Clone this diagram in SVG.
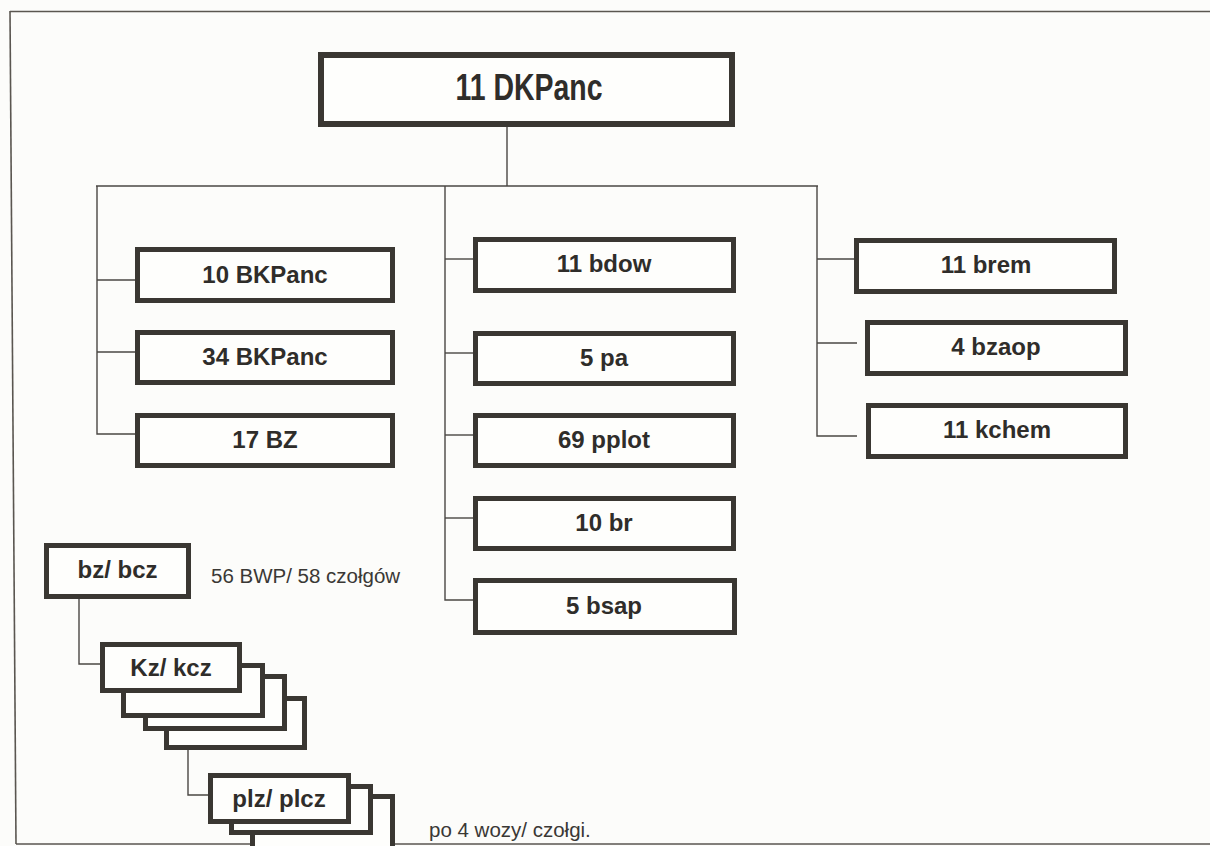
<svg xmlns="http://www.w3.org/2000/svg" width="1210" height="846" viewBox="0 0 1210 846">
<style>
.bg{fill:#fcfcfa}
.frame{fill:none;stroke:#5a5650;stroke-width:1.6}
.box{fill:#fefefc;stroke:#3a3732;stroke-width:5}
.top{stroke-width:6}
.con{fill:none;stroke:#4a4743;stroke-width:1.4}
.lbl{font-family:"Liberation Sans",Arial,sans-serif;font-weight:bold;font-size:24px;fill:#2f2d2a;text-anchor:middle}
.big{font-size:37px}
.note{font-family:"Liberation Sans",Arial,sans-serif;font-size:20.5px;fill:#3a3835}
</style>
<rect class="bg" x="0" y="0" width="1210" height="846"/>
<g id="frame">
<line class="frame" x1="10" y1="11.5" x2="1210" y2="11.5"/>
<line class="frame" x1="10" y1="11" x2="16" y2="844"/>
<line class="frame" x1="16" y1="844" x2="1210" y2="844"/>
</g>
<g id="connectors">
<line class="con" x1="507" y1="127" x2="507" y2="186"/>
<line class="con" x1="96" y1="186" x2="818" y2="186"/>
<polyline class="con" points="97,186 97,434 137,434"/>
<line class="con" x1="97" y1="280" x2="137" y2="280"/>
<line class="con" x1="97" y1="352" x2="137" y2="352"/>
<polyline class="con" points="445,186 445,600 475,600"/>
<line class="con" x1="445" y1="259" x2="475" y2="259"/>
<line class="con" x1="445" y1="353" x2="475" y2="353"/>
<line class="con" x1="445" y1="435" x2="475" y2="435"/>
<line class="con" x1="445" y1="518" x2="475" y2="518"/>
<polyline class="con" points="817,186 817,436 857,436"/>
<line class="con" x1="817" y1="259" x2="856" y2="259"/>
<line class="con" x1="817" y1="343" x2="857" y2="343"/>
<polyline class="con" points="79,599 79,664 100,664"/>
<polyline class="con" points="188,750 188,795 208,795"/>
</g>
<g id="n-11dkpanc"><rect class="box top" x="321" y="55" width="411" height="69"/><text class="lbl big" x="529" y="100" textLength="147" lengthAdjust="spacingAndGlyphs">11 DKPanc</text></g>
<g id="n-10bkpanc"><rect class="box" x="137.5" y="249.5" width="255" height="51"/><text class="lbl" x="265" y="283">10 BKPanc</text></g>
<g id="n-34bkpanc"><rect class="box" x="137.5" y="332.5" width="255" height="50"/><text class="lbl" x="265" y="365">34 BKPanc</text></g>
<g id="n-17bz"><rect class="box" x="137.5" y="415.5" width="255" height="50"/><text class="lbl" x="265" y="448">17 BZ</text></g>
<g id="n-11bdow"><rect class="box" x="475.5" y="239.5" width="258" height="51"/><text class="lbl" x="604" y="272">11 bdow</text></g>
<g id="n-5pa"><rect class="box" x="475.5" y="333.5" width="258" height="50"/><text class="lbl" x="604" y="366">5 pa</text></g>
<g id="n-69pplot"><rect class="box" x="475.5" y="415.5" width="258" height="50"/><text class="lbl" x="604" y="448">69 pplot</text></g>
<g id="n-10br"><rect class="box" x="475.5" y="498.5" width="258" height="50"/><text class="lbl" x="604" y="531">10 br</text></g>
<g id="n-5bsap"><rect class="box" x="475.5" y="580.5" width="259" height="52"/><text class="lbl" x="604" y="614">5 bsap</text></g>
<g id="n-11brem"><rect class="box" x="856.5" y="240.5" width="258" height="51"/><text class="lbl" x="986" y="273">11 brem</text></g>
<g id="n-4bzaop"><rect class="box" x="867.5" y="322.5" width="258" height="51"/><text class="lbl" x="996" y="355">4 bzaop</text></g>
<g id="n-11kchem"><rect class="box" x="868.5" y="405.5" width="257" height="51"/><text class="lbl" x="997" y="438">11 kchem</text></g>
<g id="n-bzbcz"><rect class="box" x="46.5" y="545.5" width="142" height="51"/><text class="lbl" x="117.5" y="578">bz/ bcz</text></g>
<g id="n-kzkcz">
<rect class="box" x="166.5" y="698.5" width="138" height="49"/>
<rect class="box" x="145.5" y="676.5" width="139" height="52"/>
<rect class="box" x="123.5" y="665.5" width="139" height="50"/>
<rect class="box" x="102.5" y="644.5" width="137" height="46"/>
<text class="lbl" x="171" y="676">Kz/ kcz</text>
</g>
<g id="n-plzplcz">
<rect class="box" x="252.5" y="796.5" width="140" height="52"/>
<rect class="box" x="231.5" y="786.5" width="139" height="46"/>
<rect class="box" x="210.5" y="775.5" width="138" height="46"/>
<text class="lbl" x="279" y="807">plz/ plcz</text>
</g>
<text class="note" x="211" y="583">56 BWP/ 58 czołgów</text>
<text class="note" x="429" y="837">po 4 wozy/ czołgi.</text>
</svg>
